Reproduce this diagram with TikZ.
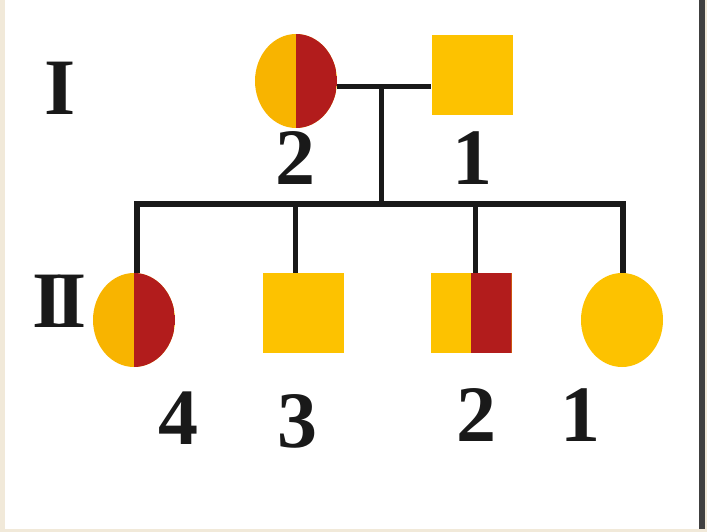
\documentclass[tikz,border=0pt]{standalone}
\usepackage{fontspec}
\setmainfont{Liberation Serif}
\usetikzlibrary{shapes.geometric}
\definecolor{gold}{HTML}{FDC200}
\definecolor{amber}{HTML}{F8B400}
\definecolor{rust}{HTML}{B21C1C}
\definecolor{paper}{HTML}{F1E9D9}
\tikzset{
  female/.style={ellipse, fill=amber, minimum width=82, minimum height=94},
  male/.style={rectangle, fill=gold, minimum width=81, minimum height=80},
  halfred/.style={path picture={\fill [rust] (path picture bounding box.north) rectangle (path picture bounding box.south east);}},
  num/.style={font=\fontsize{80}{80}\selectfont\bfseries, text=black!90},
  link/.style={black!90, line width=5}
}
\begin{document}
\begin{tikzpicture}[x=1pt, y=-1pt]
\tikzstyle{every node}+=[inner sep=0pt]
\useasboundingbox (0,0) rectangle (707,532);
\fill [paper] (0,0) rectangle (707,532);
\fill [white] (5,0) rectangle (700,529);
\fill [black!75] (699,0) rectangle (705,529);

\node [female, halfred] (f2) at (296,81) {};
\node [male] (m1) at (472,75) {};
\node [female, halfred] (c4) at (134,320) {};
\node [male] (c3) at (303,313) {};
\node [male, halfred] (c2) at (471,313) {};
\node [female, fill=gold] (c1) at (622,320) {};

\node [num] (g1) at (60,88) {I};
\node [num] (g2) at (60,301) {I\kern-8pt I};
\node [num] (n-f2) at (295,158) {2};
\node [num] (n-m1) at (472,158) {1};
\node [num] (n-c4) at (178,418) {4};
\node [num] (n-c3) at (297,421) {3};
\node [num] (n-c2) at (476,415) {2};
\node [num] (n-c1) at (580,415) {1};

\coordinate (mid) at (381,87);
\coordinate (sib) at (381,204);
\coordinate (d4) at (137,204);
\coordinate (d3) at (295,204);
\coordinate (d2) at (475,204);
\coordinate (d1) at (623,204);
\draw [link] (f2.east |- mid) -- (m1.west |- mid);
\draw [link] (mid) -- (sib);
\draw [link, line width=6] (d4 |- c4.north) -- (d4) -- (d1) -- (d1 |- c1.north);
\foreach \k in {3,2}
  \draw [link] (d\k) -- (d\k |- c\k.north);
\end{tikzpicture}
\end{document}
